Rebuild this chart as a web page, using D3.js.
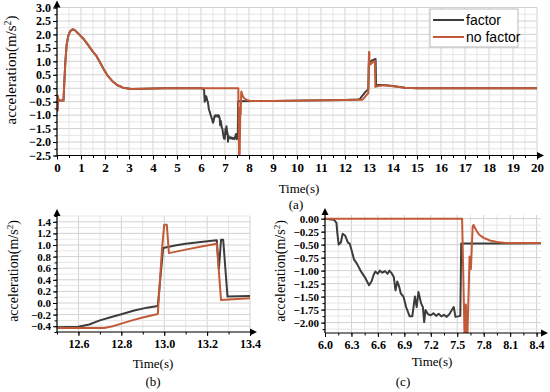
<!DOCTYPE html>
<html>
<head>
<meta charset="utf-8">
<script src="https://cdn.jsdelivr.net/npm/d3@7"></script>
<style>
  body { margin: 0; background: #fff; }
  svg { display: block; }
</style>
</head>
<body>
<svg id="chart" width="550" height="392"></svg>
<script>
// Data: [time (s), acceleration (m/s^2)]
const launchPts = [
    [0, -0.22], [0.02, -0.83], [0.04, -0.3], [0.06, -0.46], [0.27, -0.46],
    [0.31, 0.3], [0.35, 1.0], [0.40, 1.6], [0.47, 1.95], [0.55, 2.12],
    [0.65, 2.19], [0.74, 2.16], [0.9, 2.02], [1.1, 1.84], [1.3, 1.6],
    [1.5, 1.35], [1.65, 1.19], [1.8, 0.95], [1.95, 0.7], [2.1, 0.48],
    [2.3, 0.27], [2.5, 0.12], [2.75, 0.02], [3.1, -0.03], [3.6, -0.02],
    [4.5, 0], [6.0, 0],
];
const factorBrakePts = [
    [6.10, -0.02], [6.13, -0.08], [6.14, -0.28], [6.155, -0.50], [6.18, -0.46],
    [6.20, -0.29], [6.23, -0.33], [6.26, -0.46], [6.28, -0.48], [6.30, -0.60],
    [6.33, -0.79], [6.36, -0.86], [6.41, -1.02], [6.46, -1.15], [6.50, -1.28],
    [6.53, -1.20], [6.55, -1.09], [6.57, -1.02], [6.60, -1.06], [6.62, -1.00],
    [6.65, -1.04], [6.68, -1.01], [6.71, -1.06], [6.73, -1.00], [6.755, -1.05],
    [6.78, -1.12], [6.80, -1.38], [6.82, -1.21], [6.84, -1.30], [6.86, -1.44],
    [6.89, -1.50], [6.92, -1.70], [6.96, -1.88], [6.99, -1.88], [7.02, -1.50],
    [7.04, -1.70], [7.06, -1.41], [7.09, -1.63], [7.11, -1.70], [7.125, -1.99],
    [7.14, -1.76], [7.17, -1.84], [7.20, -1.86], [7.23, -1.82], [7.26, -1.87],
    [7.29, -1.83], [7.32, -1.88], [7.35, -1.85], [7.38, -1.89], [7.41, -1.84],
    [7.43, -1.78], [7.46, -1.70], [7.48, -1.89], [7.51, -1.88], [7.535, -1.87],
    [7.545, -0.48], [9.0, -0.47], [12.0, -0.44], [12.5, -0.42],
];
const noFactorBrakePts = [
    [7.555, 0], [7.585, -2.45], [7.598, -1.65], [7.612, -2.45], [7.64, -0.73],
    [7.655, -0.97], [7.675, -0.15], [7.685, -0.12], [7.72, -0.24], [7.75, -0.31],
    [7.8, -0.37], [7.87, -0.42], [7.95, -0.45], [8.05, -0.47], [9.0, -0.47],
    [12.0, -0.44], [12.5, -0.43],
];
const factorShiftPts = [
    [12.6, -0.41], [12.65, -0.37], [12.7, -0.30], [12.75, -0.245], [12.8, -0.195],
    [12.86, -0.13], [12.92, -0.08], [12.97, -0.05], [12.995, 0.95], [13.05, 0.99],
    [13.1, 1.02], [13.17, 1.05], [13.245, 1.08], [13.255, 0.59], [13.265, 1.09],
    [13.275, 1.09], [13.295, 0.11], [13.4, 0.12],
];
const noFactorShiftPts = [
    [12.72, -0.43], [12.76, -0.40], [12.8, -0.355], [12.85, -0.30], [12.9, -0.25],
    [12.97, -0.19], [12.99, 0.95], [13.0, 1.35], [13.012, 1.35], [13.022, 0.86],
    [13.1, 0.92], [13.18, 0.98], [13.245, 1.02], [13.265, 0.05], [13.3, 0.06],
    [13.4, 0.08],
];
const factorSettlePts = [[13.6, 0.12], [14.0, 0.08], [14.5, 0.02], [15.0, 0], [20, 0]];
const noFactorSettlePts = [[13.6, 0.11], [14.0, 0.07], [14.5, 0.02], [15.0, 0], [20, 0]];

const factorPts = launchPts.concat(factorBrakePts, factorShiftPts, factorSettlePts);
const noFactorPts = launchPts.concat(noFactorBrakePts, noFactorShiftPts, noFactorSettlePts);

const seriesNames = ['factor', 'no factor'];

// Tick labels for each panel
const aXTicks = d3.range(0, 21, 1);
const aYTicks = [-2.5, -2.0, -1.5, -1.0, -0.5, 0.0, 0.5, 1.0, 1.5, 2.0, 2.5, 3.0];
const bXTicks = [12.6, 12.8, 13.0, 13.2, 13.4];
const bYTicks = [-0.4, -0.2, 0.0, 0.2, 0.4, 0.6, 0.8, 1.0, 1.2, 1.4];
const cXTicks = [6.0, 6.3, 6.6, 6.9, 7.2, 7.5, 7.8, 8.1, 8.4];
const cYTicks = [-2.0, -1.75, -1.5, -1.25, -1.0, -0.75, -0.5, -0.25, 0.0];

const colors = {factor: '#3c3c3c', noFactor: '#c25a38'};

const svg = d3.select('#chart');
const serif = '"Liberation Serif", "Times New Roman", serif';

let clipId = 0;

function drawPanel(p) {
    const x = d3.scaleLinear().domain(p.xDomain).range(p.xRange);
    const y = d3.scaleLinear().domain(p.yDomain).range(p.yRange);
    const g = svg.append('g');
    const [x0, x1] = p.xRange;
    const [y0, y1] = p.yRange; // y0 bottom, y1 top
    const isMajor = (ticks, d) => ticks.some(t => Math.abs(t - d) < 1e-6);

    // Grid
    const grid = g.append('g').attr('class', 'grid');
    grid.selectAll('.gx')
        .data(p.xGrid)
        .enter().append('line')
        .attr('x1', d => x(d)).attr('x2', d => x(d))
        .attr('y1', y0).attr('y2', y1)
        .style('stroke', d => isMajor(p.xTicks, d) ? '#d2d2d2' : '#e6e6e6')
        .style('stroke-width', 1);
    grid.selectAll('.gy')
        .data(p.yGrid)
        .enter().append('line')
        .attr('x1', x0).attr('x2', x1)
        .attr('y1', d => y(d)).attr('y2', d => y(d))
        .style('stroke', d => isMajor(p.yTicks, d) ? '#d2d2d2' : '#e6e6e6')
        .style('stroke-width', 1);

    // Lines
    const id = 'clip' + (clipId++);
    g.append('clipPath').attr('id', id)
        .append('rect')
        .attr('x', x0).attr('y', y1 - 2)
        .attr('width', x1 - x0).attr('height', y0 - y1 + 2);
    const line = d3.line().x(d => x(d[0])).y(d => y(d[1]));
    const lines = g.append('g').attr('clip-path', `url(#${id})`);
    lines.append('path').datum(factorPts)
        .attr('d', line)
        .style('fill', 'none').style('stroke', colors.factor)
        .style('stroke-width', 2).style('stroke-linejoin', 'round');
    lines.append('path').datum(noFactorPts)
        .attr('d', line)
        .style('fill', 'none').style('stroke', colors.noFactor)
        .style('stroke-width', 2).style('stroke-linejoin', 'round');

    // Minor ticks
    g.append('g')
        .attr('transform', `translate(0, ${y0})`)
        .call(d3.axisBottom(x).tickValues(p.xGrid).tickSize(2.5).tickFormat(''))
        .call(sel => sel.select('.domain').remove());
    g.append('g')
        .attr('transform', `translate(${x0}, 0)`)
        .call(d3.axisLeft(y).tickValues(p.yGrid).tickSize(2.5).tickFormat(''))
        .call(sel => sel.select('.domain').remove());

    // Axes
    const styleTicks = size => sel => sel.selectAll('text')
        .attr('font-family', serif)
        .style('font-family', serif).style('font-weight', 'bold')
        .style('font-size', size + 'px').style('fill', '#000');
    g.append('g')
        .attr('transform', `translate(0, ${y0})`)
        .call(d3.axisBottom(x).tickValues(p.xTicks).tickSize(4).tickPadding(3).tickFormat(d3.format(p.xFmt)))
        .call(sel => sel.select('.domain').remove())
        .call(styleTicks(p.xFont));
    g.append('g')
        .attr('transform', `translate(${x0}, 0)`)
        .call(d3.axisLeft(y).tickValues(p.yTicks).tickSize(4).tickPadding(2).tickFormat(d3.format(p.yFmt)))
        .call(sel => sel.select('.domain').remove())
        .call(styleTicks(p.yFont));

    // Axis lines with arrows
    g.append('line').attr('x1', x0).attr('x2', x1 + 2).attr('y1', y0).attr('y2', y0)
        .style('stroke', '#000').style('stroke-width', 1.2);
    g.append('line').attr('x1', x0).attr('x2', x0).attr('y1', y0).attr('y2', y1 - 3)
        .style('stroke', '#000').style('stroke-width', 1.2);
    g.append('path')
        .attr('d', `M${x1 + 7},${y0} L${x1},${y0 - 3.5} L${x1},${y0 + 3.5} Z`)
        .style('fill', '#000');
    g.append('path')
        .attr('d', `M${x0},${y1 - 7} L${x0 - 3.5},${y1} L${x0 + 3.5},${y1} Z`)
        .style('fill', '#000');

    // Labels
    g.append('text')
        .attr('x', p.xLabel[0]).attr('y', p.xLabel[1])
        .attr('text-anchor', 'middle')
        .style('font-family', serif).style('font-size', '13px')
        .text('Time(s)');
    g.append('text')
        .attr('x', p.tag[0]).attr('y', p.tag[1])
        .attr('text-anchor', 'middle')
        .style('font-family', serif).style('font-size', '13px')
        .text(p.tagText);
    const yl = g.append('text')
        .attr('transform', `translate(${p.yLabel[0]}, ${p.yLabel[1]}) rotate(-90)`)
        .attr('text-anchor', 'middle')
        .style('font-family', serif).style('font-size', p.yLabelSize + 'px');
    yl.append('tspan').text('acceleration(m/s');
    yl.append('tspan').attr('dy', -5).style('font-size', (p.yLabelSize * 0.65) + 'px').text('2');
    yl.append('tspan').attr('dy', 5).text(')');
}

drawPanel({
    xDomain: [0, 20], xRange: [57, 537],
    yDomain: [-2.5, 3.0], yRange: [155.5, 7.5],
    xTicks: aXTicks, yTicks: aYTicks,
    xGrid: d3.range(0, 20.01, 0.5), yGrid: d3.range(-2.5, 3.01, 0.25).map(v => +v.toFixed(2)),
    xFmt: 'd', yFmt: '.1f', xFont: 13, yFont: 12,
    xLabel: [299, 193], tag: [296, 209], tagText: '(a)',
    yLabel: [16, 70], yLabelSize: 15,
});

drawPanel({
    xDomain: [12.5, 13.4], xRange: [57, 250],
    yDomain: [-0.5, 1.5], yRange: [332, 216],
    xTicks: bXTicks, yTicks: bYTicks,
    xGrid: d3.range(12.5, 13.41, 0.1).map(v => +v.toFixed(1)),
    yGrid: d3.range(-0.5, 1.51, 0.1).map(v => +v.toFixed(1)),
    xFmt: '.1f', yFmt: '.1f', xFont: 12, yFont: 11,
    xLabel: [153, 368], tag: [153, 386], tagText: '(b)',
    yLabel: [18, 271], yLabelSize: 14,
});

drawPanel({
    xDomain: [6.0, 8.45], xRange: [325, 541],
    yDomain: [-2.2, 0.07], yRange: [333, 215],
    xTicks: cXTicks, yTicks: cYTicks,
    xGrid: d3.range(6.0, 8.41, 0.15).map(v => +v.toFixed(2)),
    yGrid: d3.range(-2.125, 0.01, 0.125).map(v => +v.toFixed(3)),
    xFmt: '.1f', yFmt: '.2f', xFont: 12, yFont: 11,
    xLabel: [432, 366], tag: [403, 386], tagText: '(c)',
    yLabel: [285, 271], yLabelSize: 14,
});

// Legend
const legend = svg.append('g').attr('transform', 'translate(430, 9)');
legend.append('rect')
    .attr('width', 88).attr('height', 38)
    .style('fill', '#fff').style('stroke', '#bbb').style('stroke-width', 1);
const legendItems = legend.selectAll('.item')
    .data(seriesNames)
    .enter().append('g')
    .attr('transform', (d, i) => `translate(0, ${11 + i * 17})`);
legendItems.append('line')
    .attr('x1', 3).attr('x2', 34)
    .style('stroke', (d, i) => i === 0 ? colors.factor : colors.noFactor)
    .style('stroke-width', 2);
legendItems.append('text')
    .attr('x', 36).attr('y', 5)
    .style('font-family', '"Liberation Sans", Arial, sans-serif')
    .style('font-size', '14px')
    .text(d => d);
</script>
</body>
</html>
